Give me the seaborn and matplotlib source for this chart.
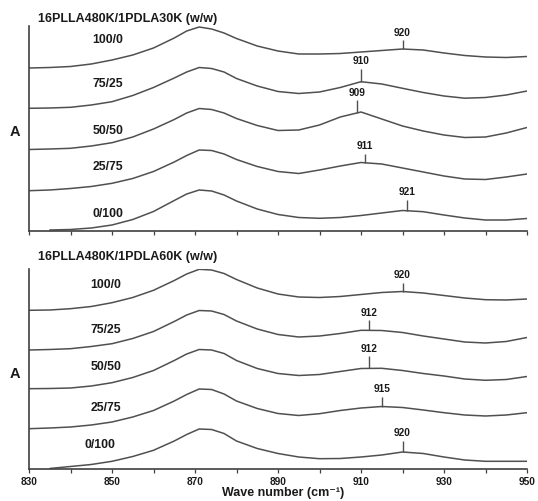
import numpy as np
import pandas as pd
import matplotlib
matplotlib.use("Agg")
import matplotlib.pyplot as plt
import seaborn as sns

sns.set_style("ticks")
plt.rcParams["font.family"] = ["Liberation Sans", "DejaVu Sans"]
plt.rcParams["font.weight"] = "bold"

# Wave number grid (cm-1)
wavenumber = [830, 835, 840, 845, 850, 855, 860, 865, 868, 871, 874, 877, 880,
              885, 890, 895, 900, 905, 910, 915, 920, 925, 930, 935, 940, 945, 950]

blends = ["100/0", "75/25", "50/50", "25/75", "0/100"]

# Stacked absorbance traces, 16PLLA480K/1PDLA30K
a30_100_0 = [1.63, 1.635, 1.645, 1.67, 1.71, 1.76, 1.83, 1.93, 2.00, 2.04, 2.02, 1.98, 1.925,
             1.85, 1.80, 1.77, 1.77, 1.775, 1.79, 1.805, 1.82, 1.81, 1.78, 1.755, 1.74, 1.735, 1.745]
a30_75_25 = [1.227, 1.23, 1.237, 1.26, 1.293, 1.355, 1.435, 1.53, 1.59, 1.635, 1.625, 1.59, 1.525,
             1.45, 1.395, 1.375, 1.39, 1.435, 1.493, 1.47, 1.427, 1.385, 1.35, 1.328, 1.335, 1.36, 1.40]
a30_50_50 = [0.815, 0.82, 0.827, 0.85, 0.883, 0.94, 1.02, 1.115, 1.18, 1.225, 1.215, 1.18, 1.125,
             1.055, 1.005, 1.01, 1.06, 1.14, 1.19, 1.12, 1.05, 1.00, 0.96, 0.935, 0.94, 0.98, 1.035]
a30_25_75 = [0.403, 0.41, 0.425, 0.445, 0.477, 0.525, 0.595, 0.69, 0.755, 0.81, 0.805, 0.77, 0.715,
             0.645, 0.595, 0.575, 0.61, 0.65, 0.685, 0.67, 0.63, 0.59, 0.55, 0.52, 0.515, 0.54, 0.57]
a30_0_100 = [np.nan, 0.01, 0.015, 0.03, 0.06, 0.115, 0.195, 0.305, 0.37, 0.41, 0.40, 0.36, 0.30,
             0.22, 0.165, 0.135, 0.127, 0.135, 0.155, 0.18, 0.205, 0.193, 0.16, 0.13, 0.11, 0.11, 0.125]

# Stacked absorbance traces, 16PLLA480K/1PDLA60K
a60_100_0 = [1.587, 1.59, 1.603, 1.625, 1.663, 1.715, 1.787, 1.885, 1.95, 1.997, 1.99, 1.955, 1.895,
             1.81, 1.75, 1.72, 1.715, 1.725, 1.745, 1.765, 1.775, 1.76, 1.735, 1.71, 1.693, 1.69, 1.70]
a60_75_25 = [1.19, 1.195, 1.203, 1.225, 1.253, 1.305, 1.375, 1.475, 1.54, 1.585, 1.58, 1.545, 1.48,
             1.40, 1.345, 1.32, 1.33, 1.355, 1.387, 1.385, 1.365, 1.33, 1.30, 1.27, 1.26, 1.275, 1.315]
a60_50_50 = [0.803, 0.805, 0.81, 0.83, 0.863, 0.915, 0.985, 1.085, 1.15, 1.195, 1.19, 1.155, 1.085,
             1.005, 0.955, 0.935, 0.945, 0.975, 1.005, 1.007, 0.985, 0.955, 0.93, 0.90, 0.887, 0.895, 0.925]
a60_25_75 = [0.403, 0.41, 0.42, 0.44, 0.47, 0.52, 0.585, 0.68, 0.745, 0.80, 0.795, 0.75, 0.68,
             0.605, 0.555, 0.535, 0.553, 0.585, 0.61, 0.625, 0.615, 0.59, 0.563, 0.54, 0.53, 0.54, 0.563]
a60_0_100 = [np.nan, 0.005, 0.025, 0.045, 0.077, 0.125, 0.187, 0.28, 0.345, 0.40, 0.395, 0.355, 0.28,
             0.205, 0.155, 0.12, 0.103, 0.105, 0.12, 0.14, 0.17, 0.155, 0.12, 0.09, 0.077, 0.077, 0.077]

# Labelled band positions (cm-1) for each blend
peaks_30k = [920, 910, 909, 911, 921]
peaks_60k = [920, 912, 912, 915, 920]

titles = ["16PLLA480K/1PDLA30K (w/w)", "16PLLA480K/1PDLA60K (w/w)"]
x_ticks = [830, 850, 870, 890, 910, 930, 950]

panels = [
    dict(traces=[a30_100_0, a30_75_25, a30_50_50, a30_25_75, a30_0_100], peaks=peaks_30k,
         title=titles[0], rect=[29 / 538, 1 - 231 / 501, 498 / 538, 205 / 501], ymax=2.05,
         stick=[0.09, 0.13, 0.13, 0.09, 0.11], name_dy=[0.15, 0.12, 0.065, 0.11, 0.06],
         name_x=[849, 849, 849, 849, 849], labels_x=True, title_y=19, a_y=132),
    dict(traces=[a60_100_0, a60_75_25, a60_50_50, a60_25_75, a60_0_100], peaks=peaks_60k,
         title=titles[1], rect=[29 / 538, 1 - 469 / 501, 498 / 538, 200 / 501], ymax=2.0,
         stick=[0.085, 0.10, 0.12, 0.095, 0.11], name_dy=[0.13, 0.085, 0.11, 0.085, 0.12],
         name_x=[848.5, 848.5, 848.5, 848.5, 847], labels_x=False, title_y=257, a_y=374),
]

line_color = "#505050"
text_color = "#1a1a1a"

fig = plt.figure(figsize=(5.38, 5.01), dpi=100)

for i, p in enumerate(panels):
    ax = fig.add_axes(p["rect"])
    frames = []
    for blend, vals in zip(blends, p["traces"]):
        frames.append(pd.DataFrame({"wn": wavenumber, "A": vals, "blend": blend}))
    df = pd.concat(frames, ignore_index=True)
    sns.lineplot(data=df, x="wn", y="A", units="blend", estimator=None,
                 color=line_color, lw=1.1, ax=ax, legend=False)

    wn = np.array(wavenumber, dtype=float)
    for blend, vals, pk, st, ndy, nx in zip(blends, p["traces"], p["peaks"],
                                           p["stick"], p["name_dy"], p["name_x"]):
        v = np.array(vals, dtype=float)
        ok = ~np.isnan(v)
        yp = np.interp(pk, wn[ok], v[ok])
        ax.vlines(pk, yp, yp + st, color=line_color, lw=1.0)
        ax.text(pk, yp + st + 0.025, str(pk), ha="center", va="bottom",
                fontsize=7.3, fontweight="bold", color=text_color)
        yn = np.interp(nx, wn[ok], v[ok])
        ax.text(nx, yn + ndy, blend, ha="center", va="bottom",
                fontsize=8.8, fontweight="bold", color=text_color)

    ax.set_xlim(830, 950)
    ax.set_ylim(0, p["ymax"])
    ax.set_xticks(x_ticks)
    ax.set_xticks(np.arange(840, 950, 20), minor=True)
    ax.set_yticks([])
    ax.set_xlabel("")
    ax.set_ylabel("")
    sns.despine(ax=ax)
    for s in ["left", "bottom"]:
        ax.spines[s].set_color("#404040")
        ax.spines[s].set_linewidth(1.2)
    ax.tick_params(axis="x", which="both", direction="out", length=3, width=0.9,
                   color="#404040", labelsize=7.3, pad=3, labelcolor=text_color)
    for lab in ax.get_xticklabels():
        lab.set_fontweight("bold")
    if p["labels_x"]:
        ax.tick_params(axis="x", labelbottom=False)

    fig.text(38 / 538, 1 - p["title_y"] / 501, p["title"], ha="left", va="center",
             fontsize=9, fontweight="bold", color=text_color)
    fig.text(15 / 538, 1 - p["a_y"] / 501, "A", ha="center", va="center",
             fontsize=10.5, fontweight="bold", color=text_color)

fig.text(283 / 538, 1 - 493 / 501, "Wave number (cm\u207b\u00b9)", ha="center", va="center",
         fontsize=9, fontweight="bold", color=text_color)

fig.savefig("out.png", dpi=100, facecolor="white")
